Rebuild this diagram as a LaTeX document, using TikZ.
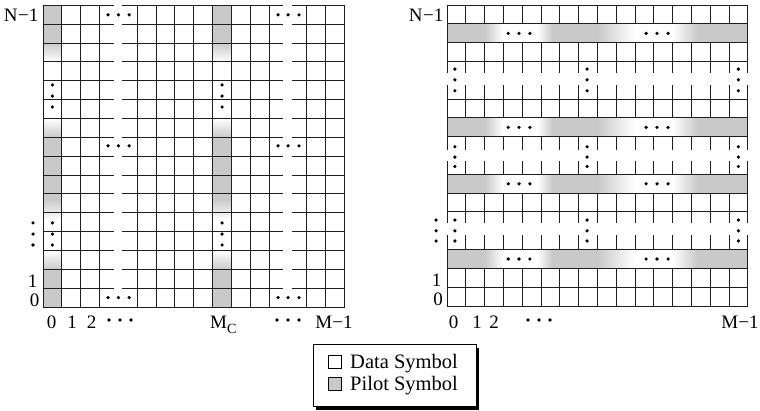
\documentclass[tikz,border=0pt]{standalone}
\usepackage{fontspec}
\setmainfont{Liberation Serif}
\definecolor{pilot}{gray}{0.79}
\tikzset{
  gridline/.style={line width=1pt, draw=black!88, line cap=rect},
  lab/.style={font=\fontsize{19}{19}\selectfont, inner sep=0pt},
  leg/.style={font=\fontsize{20.5}{20.5}\selectfont, inner sep=0pt, anchor=base west},
}
\newcommand\pilotcolumn[1]{%
  \fill[pilot] (#1,14) rectangle (#1+1,16);
  \shade[top color=pilot, bottom color=white] (#1,13) rectangle (#1+1,14);
  \shade[top color=white, bottom color=pilot] (#1,9) rectangle (#1+1,10);
  \fill[pilot] (#1,5.7) rectangle (#1+1,9);
  \shade[top color=pilot, bottom color=white] (#1,4.6) rectangle (#1+1,5.7);
  \shade[top color=white, bottom color=pilot] (#1,2) rectangle (#1+1,3);
  \fill[pilot] (#1,0) rectangle (#1+1,2);
}
\newcommand\pilotrowband[1]{%
  \fill[pilot] (0,#1) rectangle (2,#1+1);
  \shade[left color=pilot, right color=white] (2,#1) rectangle (3,#1+1);
  \shade[left color=white, right color=pilot] (4.8,#1) rectangle (5.6,#1+1);
  \fill[pilot] (5.6,#1) rectangle (8,#1+1);
  \shade[left color=pilot, right color=white] (8,#1) rectangle (10,#1+1);
  \shade[left color=white, right color=pilot] (12,#1) rectangle (13.3,#1+1);
  \fill[pilot] (13.3,#1) rectangle (16,#1+1);
}
\newcommand\dotat[1]{\fill[black] (#1) circle[radius=1.8pt];}
\begin{document}
\begin{tikzpicture}[x=1pt,y=1pt]
\useasboundingbox (0,0) rectangle (760,410);

% ---------------- left grid ----------------
\begin{scope}[shift={(43pt,103pt)}, x=18.85pt, y=18.85pt]
  \pilotcolumn{0}
  \pilotcolumn{9}
  \foreach \j in {1,...,16}
    \draw[gridline] (0,\j) -- (3.72,\j) (4.24,\j) -- (12.73,\j) (13.26,\j) -- (16,\j);
  \draw[gridline] (0,0) -- (16,0);
  \foreach \i in {0,1,2,3,5,6,7,8,9,10,11,12,14,15,16}
    \draw[gridline] (\i,0) -- (\i,16);
  % horizontal dots
  \foreach \yy in {15.5,8.55,0.5}{
    \foreach \xx in {3.45,4.0,4.57,12.47,13.0,13.58}{\dotat{\xx,\yy}}
  }
  % vertical dots
  \foreach \xx in {0.5,9.5}{
    \foreach \yy in {11.78,11.19,10.61,4.46,3.87,3.29}{\dotat{\xx,\yy}}
  }
  \foreach \yy in {4.46,3.87,3.29}{\dotat{-0.53,\yy}}
\end{scope}

\node[lab, anchor=base east] (lN) at (38.5,388) {N\kern0.5pt−1};
\node[lab, anchor=base east] (lone) at (37.5,123) {1};
\node[lab, anchor=base east] (lzero) at (39.5,103.5) {0};
\node[lab, anchor=base] (lb0) at (51.5,82) {0};
\node[lab, anchor=base] (lb1) at (72,82) {1};
\node[lab, anchor=base] (lb2) at (91.5,82) {2};
\node[lab, anchor=base west] (lbmc) at (210,82) {M\raisebox{-5pt}{\fontsize{14}{14}\selectfont C}};
\node[lab, anchor=base] (lbm) at (334,82) {M−1};
\foreach \xx in {109,120,131,277,288,299}{\dotat{\xx,90}}

% ---------------- right grid ----------------
\begin{scope}[shift={(447pt,104pt)}, x=18.8pt, y=18.8pt]
  \foreach \r in {14,9,6,2}{\pilotrowband{\r}}
  \foreach \j in {0,1,2,3,5,6,7,9,10,11,13,14,15,16}
    \draw[gridline] (0,\j) -- (16,\j);
  \foreach \i in {1,...,15}
    \draw[gridline] (\i,0) -- (\i,2) (\i,3) -- (\i,3.76) (\i,4.42) -- (\i,6)
      (\i,7) -- (\i,7.66) (\i,8.34) -- (\i,9) (\i,10) -- (\i,11.72)
      (\i,12.42) -- (\i,14) (\i,15) -- (\i,16);
  \foreach \i in {0,16}
    \draw[gridline] (\i,0) -- (\i,3.76) (\i,4.42) -- (\i,7.66)
      (\i,8.34) -- (\i,11.72) (\i,12.42) -- (\i,16);
  % horizontal dots in pilot rows
  \foreach \r in {14.5,9.5,6.5,2.5}{
    \foreach \xx in {3.26,3.83,4.41,10.59,11.17,11.76}{\dotat{\xx,\r}}
  }
  % vertical dots
  \foreach \xx in {0.42,7.45,15.5}{
    \foreach \yy in {12.6,12.03,11.45,8.47,7.92,7.42,4.57,4.0,3.46}{\dotat{\xx,\yy}}
  }
  \foreach \yy in {4.57,4.0,3.46}{\dotat{-0.58,\yy}}
\end{scope}

\node[lab, anchor=base east] (rN) at (443.5,388) {N\kern0.5pt−1};
\node[lab, anchor=base east] (rone) at (441.5,124) {1};
\node[lab, anchor=base east] (rzero) at (443,104.3) {0};
\node[lab, anchor=base] (rb0) at (453.7,82) {0};
\node[lab, anchor=base] (rb1) at (477,82) {1};
\node[lab, anchor=base] (rb2) at (494,82) {2};
\node[lab, anchor=base] (rbm) at (740,82) {M−1};
\foreach \xx in {528,539,550}{\dotat{\xx,90}}

% ---------------- legend ----------------
\fill[black] (315.5,0.3) rectangle (479,62);
\node[draw, line width=1pt, fill=white, inner sep=0pt, minimum width=163pt, minimum height=62pt] (legbox) at (394.5,35) {};
\node[draw, line width=0.8pt, fill=white, inner sep=0pt, minimum size=13pt] (datasq) at (335,48) {};
\node[draw, line width=0.8pt, fill=pilot, inner sep=0pt, minimum size=13pt] (pilotsq) at (335,26.5) {};
\node[leg] (datatxt) at (350,42) {Data Symbol};
\node[leg] (pilottxt) at (350,20) {Pilot Symbol};
\end{tikzpicture}
\end{document}
